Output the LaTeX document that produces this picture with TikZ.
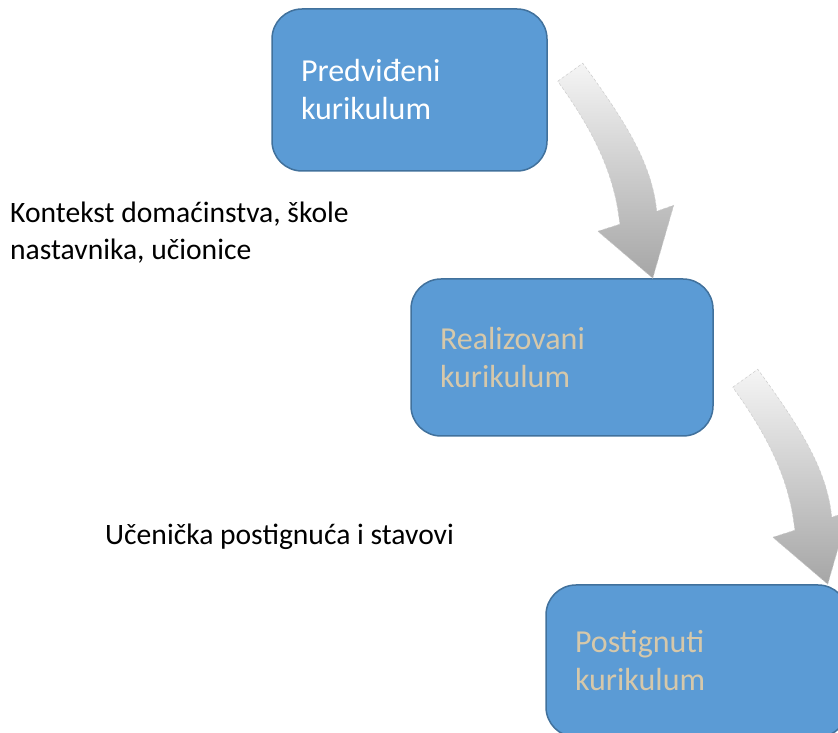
\documentclass[tikz,border=0pt]{standalone}
\usepackage{fontspec}
\setmainfont{Carlito}
\usetikzlibrary{positioning, calc}
\definecolor{boxblue}{RGB}{91,155,213}
\definecolor{boxedge}{RGB}{65,113,156}
\definecolor{tantext}{RGB}{214,200,170}
\tikzset{
    stage/.style = {draw=boxedge, fill=boxblue, line width=1.5pt,
        rounded corners=30pt, text width=#1, align=left,
        inner xsep=29pt, inner ysep=0pt,
        font=\fontsize{32}{38}\selectfont},
    context/.style = {inner sep=0pt, align=left, text=black,
        font=\fontsize{29.6}{37}\selectfont},
    bendarrow/.pic = {
        \path[top color=gray!8, bottom color=gray!70,
            draw=gray!40, densely dashed, line width=0.5pt]
            (-95,197) -- (-70,215)
            .. controls (-30,160) and (-1,117) .. (4,67)
            -- (21,73) -- (0,0) -- (-55,47) -- (-33,54)
            .. controls (-38,104) and (-59,147) .. (-95,197) -- cycle;
    },
}

\begin{document}
\begin{tikzpicture}[x=1pt,y=1pt]
    \useasboundingbox (0,0) rectangle (838,733);
    \clip (0,0) rectangle (838,733);
    % the three curricula
    \node (b1) [stage=217pt, minimum height=162pt, text=white] at (409.5,643) {Predviđeni\\kurikulum};
    \node (b2) [stage=244pt, minimum height=157pt, text=tantext] at (562,375.5) {Realizovani\\kurikulum};
    \node (b3) [stage=244pt, minimum height=152pt, text=tantext] at (697,72) {Postignuti\\kurikulum};
    % context texts
    \node (ctx1) [context, anchor=west] at (10,500.5) {Kontekst domaćinstva, škole\\nastavnika, učionice};
    \node (ctx2) [context, anchor=base west] at (105,188) {Učenička postignuća i stavovi};
    % curved arrows
    \pic at ($(b2.north east)+(-61,0)$) {bendarrow};
    \pic at ($(b3.north east)+(-21,0)$) {bendarrow};
\end{tikzpicture}
\end{document}
